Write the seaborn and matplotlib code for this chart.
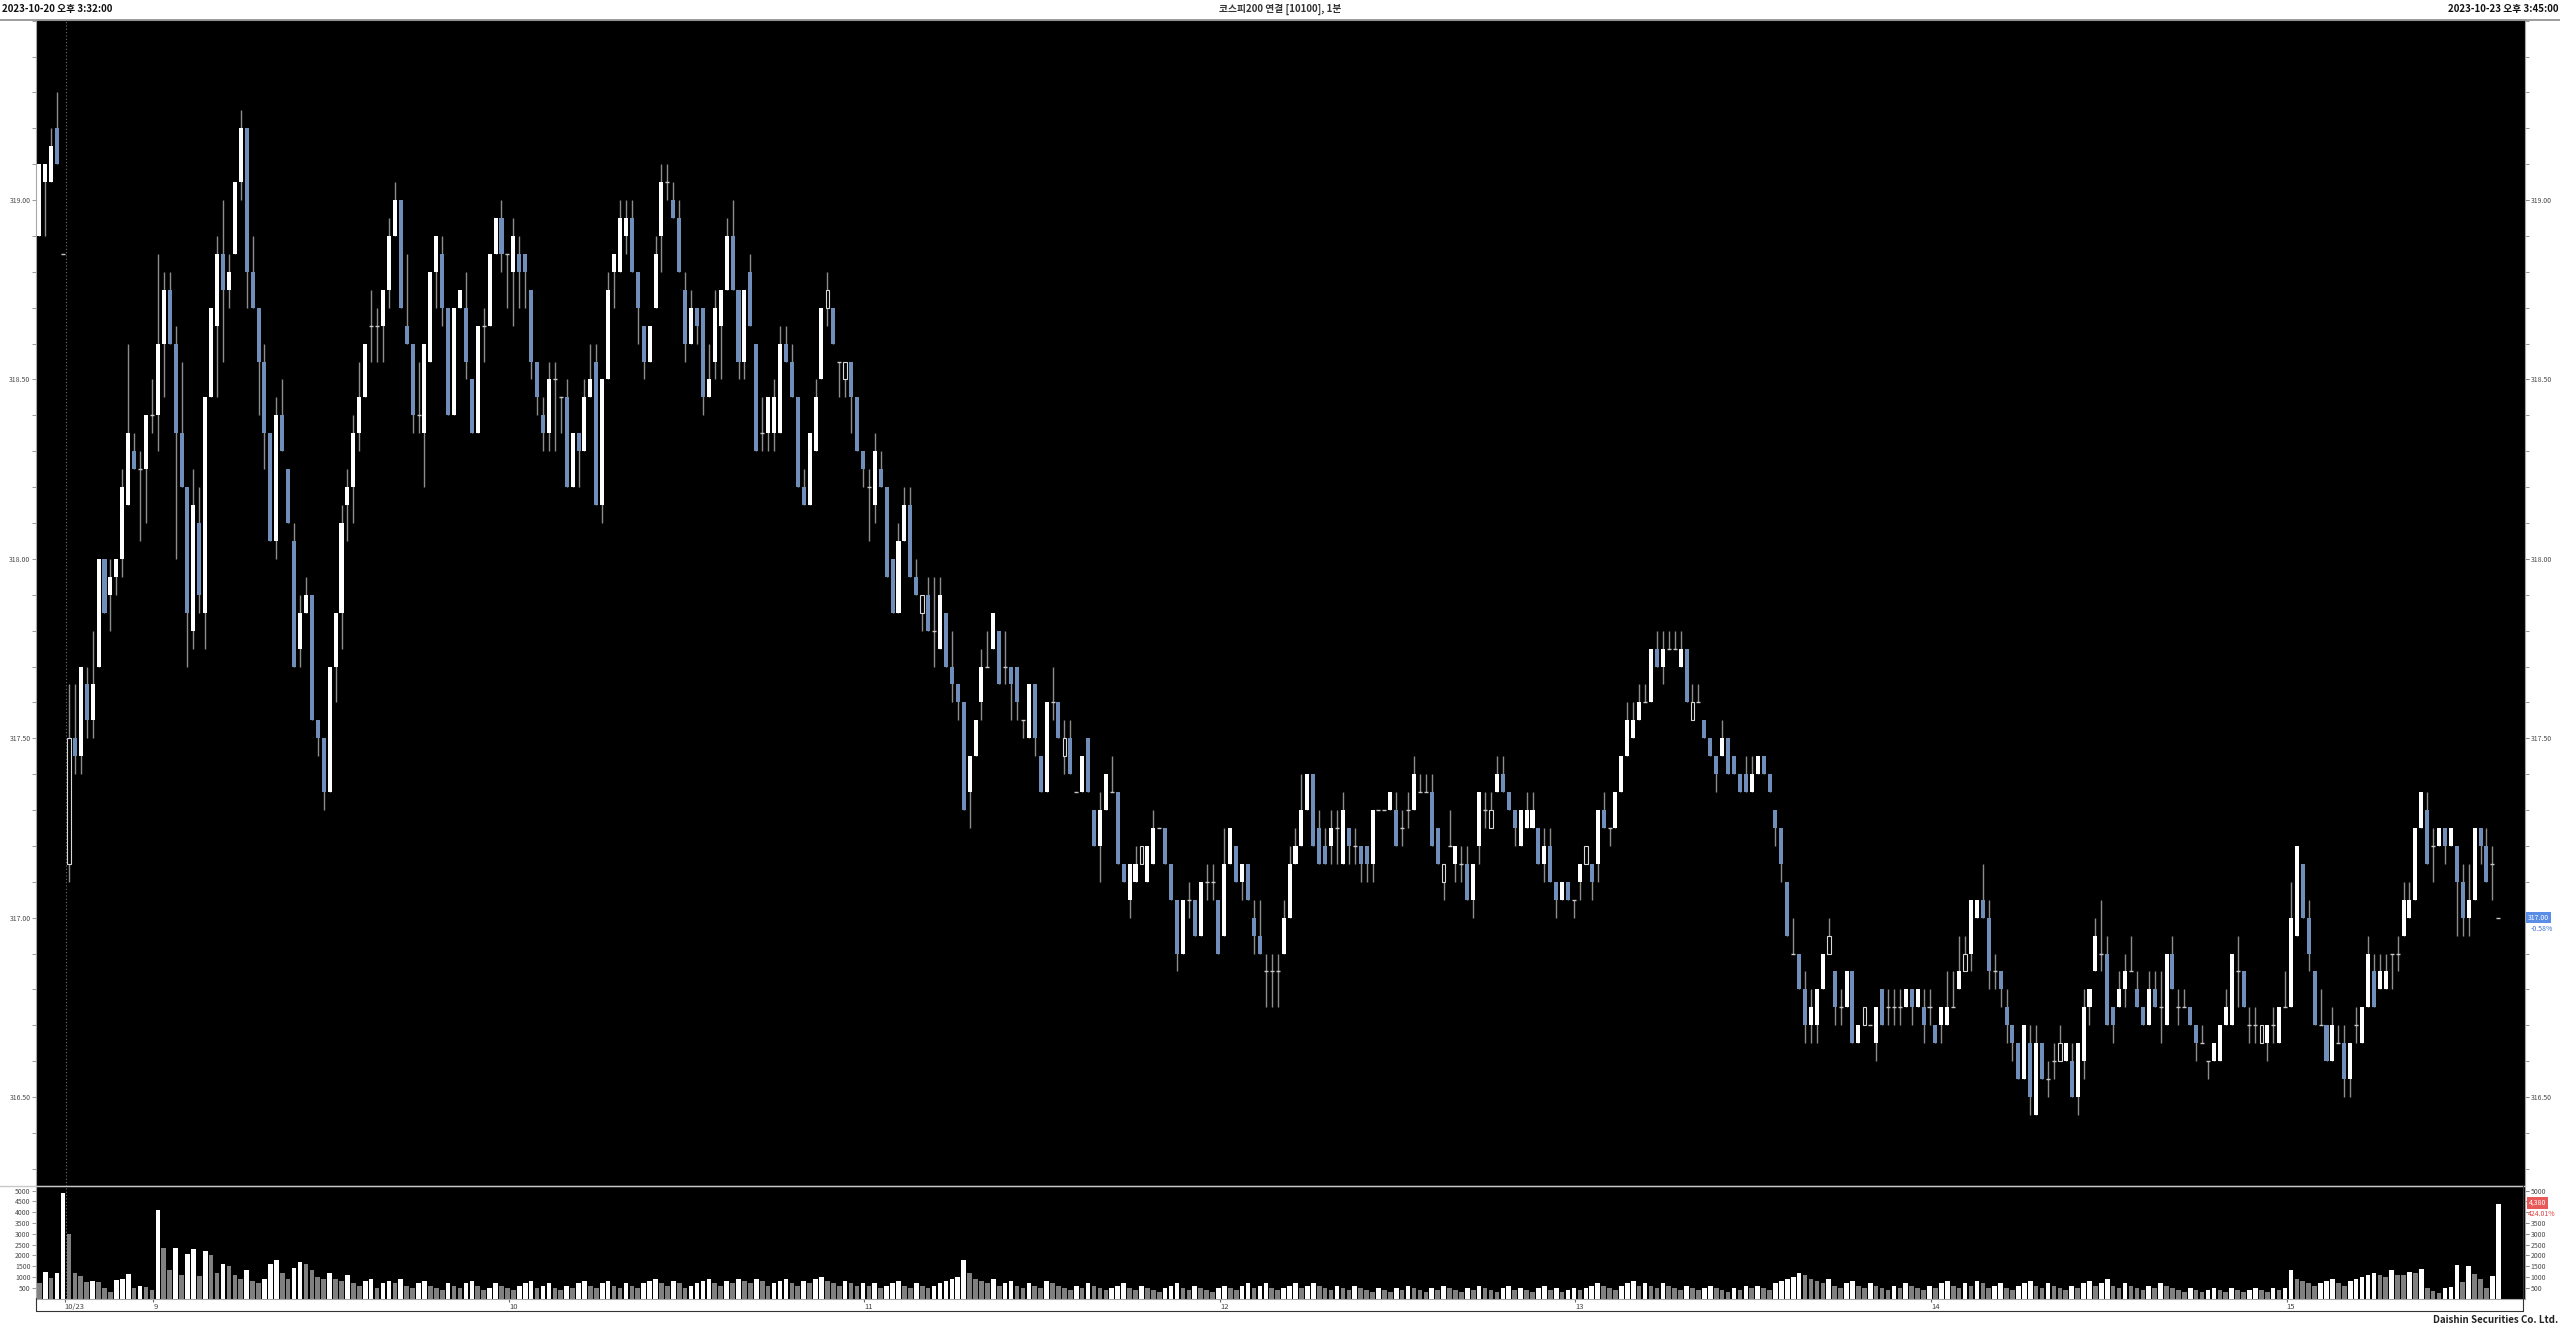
import matplotlib
matplotlib.use("Agg")
import matplotlib.pyplot as plt
from matplotlib.lines import Line2D
from matplotlib.ticker import MultipleLocator, FormatStrFormatter
import seaborn as sns
import numpy as np
import pandas as pd

# 1-minute candles, 2023-10-20 15:32 .. 2023-10-23 15:45
opens = [
    318.90, 319.05, 319.05, 319.20, 318.85, 317.15, 317.50, 317.45, 317.65, 317.55,
    317.70, 318.00, 317.90, 317.95, 318.00, 318.15, 318.30, 318.25, 318.25, 318.40,
    318.40, 318.60, 318.75, 318.60, 318.35, 318.20, 317.80, 318.10, 317.85, 318.45,
    318.65, 318.85, 318.75, 318.85, 319.05, 319.20, 318.80, 318.70, 318.55, 318.35,
    318.05, 318.40, 318.25, 318.05, 317.75, 317.85, 317.90, 317.55, 317.50, 317.35,
    317.70, 317.85, 318.15, 318.20, 318.35, 318.45, 318.65, 318.65, 318.65, 318.75,
    318.90, 319.00, 318.65, 318.60, 318.40, 318.35, 318.55, 318.80, 318.85, 318.70,
    318.40, 318.70, 318.70, 318.50, 318.35, 318.65, 318.65, 318.85, 318.95, 318.85,
    318.80, 318.85, 318.85, 318.75, 318.55, 318.40, 318.35, 318.50, 318.45, 318.45,
    318.20, 318.35, 318.30, 318.45, 318.55, 318.15, 318.50, 318.80, 318.80, 318.90,
    318.95, 318.80, 318.65, 318.55, 318.70, 318.90, 319.05, 319.00, 318.95, 318.75,
    318.60, 318.70, 318.70, 318.45, 318.55, 318.65, 318.75, 318.90, 318.75, 318.55,
    318.80, 318.60, 318.35, 318.35, 318.35, 318.35, 318.60, 318.55, 318.45, 318.20,
    318.15, 318.30, 318.50, 318.70, 318.70, 318.55, 318.50, 318.55, 318.45, 318.30,
    318.20, 318.15, 318.25, 318.20, 318.00, 317.85, 318.05, 318.15, 317.95, 317.85,
    317.90, 317.80, 317.75, 317.85, 317.70, 317.65, 317.60, 317.35, 317.45, 317.60,
    317.70, 317.75, 317.80, 317.70, 317.70, 317.70, 317.55, 317.50, 317.65, 317.45,
    317.35, 317.60, 317.60, 317.45, 317.50, 317.35, 317.35, 317.50, 317.30, 317.20,
    317.30, 317.35, 317.35, 317.15, 317.05, 317.10, 317.15, 317.10, 317.15, 317.25,
    317.25, 317.15, 317.05, 316.90, 317.05, 317.05, 316.95, 317.10, 317.10, 317.05,
    316.95, 317.15, 317.20, 317.10, 317.15, 317.00, 316.95, 316.85, 316.85, 316.85,
    316.90, 317.00, 317.15, 317.20, 317.30, 317.40, 317.25, 317.20, 317.20, 317.25,
    317.15, 317.25, 317.20, 317.20, 317.20, 317.15, 317.30, 317.30, 317.30, 317.30,
    317.25, 317.30, 317.30, 317.35, 317.35, 317.35, 317.25, 317.10, 317.20, 317.15,
    317.15, 317.15, 317.05, 317.20, 317.30, 317.25, 317.35, 317.40, 317.35, 317.30,
    317.20, 317.25, 317.25, 317.25, 317.15, 317.20, 317.10, 317.05, 317.10, 317.05,
    317.10, 317.15, 317.15, 317.15, 317.30, 317.25, 317.25, 317.35, 317.45, 317.50,
    317.55, 317.60, 317.60, 317.75, 317.70, 317.75, 317.75, 317.70, 317.75, 317.55,
    317.60, 317.55, 317.50, 317.45, 317.45, 317.50, 317.45, 317.40, 317.40, 317.35,
    317.40, 317.45, 317.40, 317.30, 317.25, 317.10, 316.90, 316.90, 316.80, 316.70,
    316.70, 316.80, 316.90, 316.85, 316.75, 316.75, 316.85, 316.65, 316.70, 316.70,
    316.65, 316.80, 316.75, 316.75, 316.75, 316.75, 316.80, 316.75, 316.75, 316.75,
    316.70, 316.70, 316.70, 316.75, 316.80, 316.85, 316.90, 317.00, 317.05, 317.00,
    316.85, 316.85, 316.75, 316.70, 316.65, 316.55, 316.65, 316.45, 316.65, 316.55,
    316.60, 316.60, 316.60, 316.60, 316.50, 316.60, 316.75, 316.85, 316.90, 316.90,
    316.75, 316.75, 316.80, 316.85, 316.80, 316.75, 316.70, 316.80, 316.75, 316.70,
    316.90, 316.75, 316.75, 316.75, 316.70, 316.65, 316.60, 316.60, 316.60, 316.70,
    316.70, 316.85, 316.85, 316.70, 316.70, 316.65, 316.65, 316.70, 316.65, 316.75,
    316.75, 316.95, 317.15, 317.00, 316.85, 316.70, 316.70, 316.60, 316.65, 316.65,
    316.55, 316.70, 316.65, 316.75, 316.85, 316.80, 316.80, 316.90, 316.90, 316.95,
    317.00, 317.05, 317.25, 317.30, 317.20, 317.20, 317.25, 317.20, 317.20, 317.10,
    317.00, 317.05, 317.25, 317.20, 317.15, 317.00,
]
highs = [
    319.10, 319.10, 319.20, 319.30, 318.85, 317.65, 317.65, 317.70, 317.70, 317.80,
    318.00, 318.00, 318.00, 318.00, 318.25, 318.60, 318.35, 318.30, 318.40, 318.50,
    318.85, 318.80, 318.80, 318.65, 318.55, 318.20, 318.25, 318.20, 318.45, 318.70,
    318.90, 319.00, 318.85, 319.05, 319.25, 319.20, 318.90, 318.70, 318.60, 318.35,
    318.45, 318.50, 318.25, 318.10, 317.90, 317.95, 317.90, 317.55, 317.50, 317.70,
    317.85, 318.15, 318.25, 318.40, 318.55, 318.60, 318.75, 318.70, 318.75, 318.95,
    319.05, 319.00, 318.85, 318.60, 318.55, 318.60, 318.80, 318.90, 318.90, 318.70,
    318.70, 318.75, 318.80, 318.50, 318.65, 318.70, 318.85, 318.95, 319.00, 318.85,
    318.95, 318.90, 318.85, 318.75, 318.55, 318.45, 318.55, 318.55, 318.45, 318.50,
    318.35, 318.35, 318.50, 318.60, 318.60, 318.50, 318.80, 318.85, 319.00, 319.00,
    319.00, 318.80, 318.65, 318.65, 318.90, 319.10, 319.10, 319.05, 319.00, 318.80,
    318.75, 318.70, 318.70, 318.60, 318.75, 318.75, 318.95, 319.00, 318.75, 318.75,
    318.85, 318.60, 318.45, 318.45, 318.50, 318.65, 318.65, 318.60, 318.45, 318.25,
    318.35, 318.50, 318.70, 318.80, 318.70, 318.55, 318.55, 318.55, 318.45, 318.30,
    318.25, 318.35, 318.30, 318.20, 318.00, 318.10, 318.20, 318.20, 318.00, 317.90,
    317.95, 317.95, 317.95, 317.85, 317.80, 317.65, 317.60, 317.45, 317.55, 317.75,
    317.80, 317.85, 317.80, 317.80, 317.70, 317.70, 317.55, 317.65, 317.65, 317.45,
    317.60, 317.70, 317.60, 317.55, 317.55, 317.35, 317.45, 317.50, 317.30, 317.35,
    317.40, 317.45, 317.35, 317.15, 317.15, 317.20, 317.20, 317.20, 317.30, 317.25,
    317.25, 317.15, 317.05, 317.05, 317.10, 317.05, 317.10, 317.15, 317.15, 317.05,
    317.25, 317.25, 317.20, 317.15, 317.15, 317.05, 317.05, 316.90, 316.90, 316.90,
    317.05, 317.20, 317.25, 317.40, 317.40, 317.40, 317.30, 317.25, 317.30, 317.30,
    317.35, 317.25, 317.25, 317.20, 317.20, 317.30, 317.30, 317.30, 317.35, 317.35,
    317.30, 317.35, 317.45, 317.40, 317.40, 317.40, 317.25, 317.15, 317.30, 317.20,
    317.20, 317.20, 317.15, 317.35, 317.35, 317.35, 317.45, 317.45, 317.35, 317.30,
    317.30, 317.35, 317.35, 317.25, 317.25, 317.25, 317.10, 317.10, 317.10, 317.05,
    317.15, 317.20, 317.15, 317.30, 317.35, 317.25, 317.35, 317.45, 317.60, 317.60,
    317.65, 317.65, 317.75, 317.80, 317.80, 317.80, 317.80, 317.80, 317.75, 317.65,
    317.65, 317.55, 317.50, 317.45, 317.55, 317.50, 317.45, 317.40, 317.45, 317.45,
    317.45, 317.45, 317.40, 317.30, 317.25, 317.10, 317.00, 316.90, 316.85, 316.80,
    316.80, 316.90, 317.00, 316.85, 316.80, 316.85, 316.85, 316.70, 316.75, 316.70,
    316.75, 316.80, 316.80, 316.80, 316.80, 316.80, 316.80, 316.80, 316.80, 316.80,
    316.70, 316.75, 316.85, 316.85, 316.95, 316.95, 317.05, 317.05, 317.15, 317.05,
    316.90, 316.85, 316.80, 316.70, 316.65, 316.70, 316.70, 316.70, 316.65, 316.60,
    316.65, 316.70, 316.65, 316.65, 316.65, 316.80, 316.80, 317.00, 317.05, 316.95,
    316.75, 316.85, 316.90, 316.95, 316.85, 316.75, 316.85, 316.85, 316.85, 316.90,
    316.95, 316.80, 316.80, 316.75, 316.70, 316.70, 316.60, 316.65, 316.70, 316.80,
    316.90, 316.95, 316.85, 316.75, 316.75, 316.70, 316.70, 316.75, 316.75, 316.85,
    317.10, 317.20, 317.15, 317.05, 316.85, 316.80, 316.70, 316.75, 316.70, 316.70,
    316.65, 316.75, 316.75, 316.95, 316.90, 316.90, 316.90, 316.90, 316.95, 317.10,
    317.10, 317.25, 317.35, 317.35, 317.25, 317.25, 317.25, 317.25, 317.20, 317.15,
    317.15, 317.25, 317.25, 317.25, 317.20, 317.00,
]
lows = [
    318.90, 318.90, 319.05, 319.10, 318.85, 317.10, 317.40, 317.40, 317.50, 317.50,
    317.70, 317.85, 317.80, 317.90, 317.95, 318.15, 318.25, 318.05, 318.10, 318.35,
    318.30, 318.45, 318.60, 318.00, 318.20, 317.70, 317.75, 317.85, 317.75, 318.45,
    318.45, 318.55, 318.70, 318.85, 319.00, 318.70, 318.70, 318.40, 318.25, 318.05,
    318.00, 318.30, 318.10, 317.70, 317.70, 317.85, 317.55, 317.45, 317.30, 317.35,
    317.60, 317.75, 318.05, 318.10, 318.30, 318.45, 318.55, 318.55, 318.55, 318.70,
    318.90, 318.70, 318.60, 318.35, 318.35, 318.20, 318.55, 318.70, 318.65, 318.40,
    318.40, 318.70, 318.50, 318.35, 318.35, 318.55, 318.65, 318.85, 318.80, 318.70,
    318.65, 318.70, 318.70, 318.50, 318.40, 318.30, 318.30, 318.30, 318.35, 318.20,
    318.20, 318.20, 318.30, 318.45, 318.15, 318.10, 318.50, 318.70, 318.80, 318.85,
    318.80, 318.60, 318.50, 318.55, 318.70, 318.80, 319.00, 318.95, 318.80, 318.55,
    318.60, 318.60, 318.40, 318.45, 318.50, 318.50, 318.75, 318.75, 318.50, 318.50,
    318.65, 318.30, 318.30, 318.30, 318.30, 318.35, 318.55, 318.45, 318.20, 318.15,
    318.15, 318.30, 318.50, 318.65, 318.60, 318.45, 318.45, 318.35, 318.30, 318.20,
    318.05, 318.10, 318.20, 317.95, 317.85, 317.85, 318.05, 317.95, 317.90, 317.80,
    317.80, 317.70, 317.75, 317.70, 317.60, 317.55, 317.30, 317.25, 317.45, 317.55,
    317.70, 317.75, 317.65, 317.65, 317.55, 317.55, 317.50, 317.50, 317.45, 317.35,
    317.35, 317.55, 317.50, 317.40, 317.40, 317.35, 317.35, 317.35, 317.20, 317.10,
    317.30, 317.35, 317.15, 317.10, 317.00, 317.10, 317.15, 317.10, 317.15, 317.25,
    317.15, 317.05, 316.85, 316.90, 317.00, 316.95, 316.95, 317.05, 317.05, 316.90,
    316.95, 317.15, 317.10, 317.05, 317.05, 316.90, 316.90, 316.75, 316.75, 316.75,
    316.90, 317.00, 317.15, 317.20, 317.30, 317.20, 317.15, 317.15, 317.15, 317.15,
    317.15, 317.15, 317.15, 317.10, 317.10, 317.10, 317.30, 317.30, 317.30, 317.20,
    317.20, 317.25, 317.30, 317.35, 317.35, 317.20, 317.15, 317.05, 317.20, 317.10,
    317.10, 317.05, 317.00, 317.15, 317.25, 317.25, 317.35, 317.35, 317.30, 317.20,
    317.20, 317.25, 317.25, 317.15, 317.10, 317.10, 317.00, 317.05, 317.05, 317.00,
    317.05, 317.15, 317.05, 317.10, 317.25, 317.20, 317.25, 317.35, 317.45, 317.50,
    317.55, 317.60, 317.60, 317.70, 317.65, 317.75, 317.75, 317.70, 317.60, 317.55,
    317.60, 317.50, 317.45, 317.35, 317.45, 317.40, 317.40, 317.35, 317.35, 317.35,
    317.40, 317.40, 317.35, 317.20, 317.10, 316.95, 316.90, 316.80, 316.65, 316.65,
    316.65, 316.80, 316.90, 316.70, 316.70, 316.75, 316.65, 316.65, 316.70, 316.70,
    316.60, 316.70, 316.70, 316.70, 316.70, 316.75, 316.70, 316.75, 316.65, 316.70,
    316.65, 316.65, 316.70, 316.75, 316.80, 316.85, 316.85, 317.00, 317.00, 316.80,
    316.80, 316.75, 316.65, 316.60, 316.55, 316.55, 316.45, 316.45, 316.55, 316.50,
    316.55, 316.60, 316.60, 316.50, 316.45, 316.55, 316.70, 316.85, 316.85, 316.70,
    316.65, 316.75, 316.75, 316.85, 316.75, 316.70, 316.70, 316.75, 316.65, 316.70,
    316.80, 316.70, 316.75, 316.70, 316.60, 316.65, 316.55, 316.60, 316.60, 316.70,
    316.70, 316.75, 316.75, 316.65, 316.65, 316.65, 316.60, 316.65, 316.65, 316.75,
    316.75, 316.95, 317.00, 316.85, 316.70, 316.70, 316.60, 316.60, 316.65, 316.50,
    316.50, 316.65, 316.65, 316.75, 316.75, 316.80, 316.80, 316.80, 316.85, 316.95,
    317.00, 317.05, 317.25, 317.15, 317.10, 317.20, 317.15, 317.20, 316.95, 316.95,
    316.95, 317.05, 317.15, 317.10, 317.05, 317.00,
]
closes = [
    319.10, 319.10, 319.15, 319.10, 318.85, 317.50, 317.45, 317.70, 317.55, 317.65,
    318.00, 317.85, 317.95, 318.00, 318.20, 318.35, 318.25, 318.25, 318.40, 318.40,
    318.60, 318.75, 318.60, 318.35, 318.20, 317.85, 318.15, 317.90, 318.45, 318.70,
    318.85, 318.75, 318.80, 319.05, 319.20, 318.80, 318.70, 318.55, 318.35, 318.05,
    318.40, 318.30, 318.10, 317.70, 317.85, 317.90, 317.55, 317.50, 317.35, 317.70,
    317.85, 318.10, 318.20, 318.35, 318.45, 318.60, 318.65, 318.65, 318.75, 318.90,
    319.00, 318.70, 318.60, 318.40, 318.40, 318.60, 318.80, 318.90, 318.70, 318.40,
    318.70, 318.75, 318.55, 318.35, 318.65, 318.65, 318.85, 318.95, 318.85, 318.85,
    318.90, 318.80, 318.80, 318.55, 318.45, 318.35, 318.50, 318.50, 318.45, 318.20,
    318.35, 318.30, 318.45, 318.50, 318.15, 318.50, 318.75, 318.85, 318.95, 318.95,
    318.80, 318.70, 318.55, 318.65, 318.85, 319.05, 319.05, 318.95, 318.80, 318.60,
    318.70, 318.65, 318.45, 318.50, 318.70, 318.75, 318.90, 318.75, 318.55, 318.75,
    318.65, 318.30, 318.35, 318.45, 318.45, 318.60, 318.55, 318.45, 318.20, 318.15,
    318.35, 318.45, 318.70, 318.75, 318.60, 318.55, 318.55, 318.45, 318.30, 318.25,
    318.20, 318.30, 318.20, 317.95, 317.85, 318.05, 318.15, 317.95, 317.90, 317.90,
    317.80, 317.80, 317.90, 317.70, 317.65, 317.60, 317.30, 317.45, 317.55, 317.70,
    317.70, 317.85, 317.65, 317.70, 317.65, 317.60, 317.55, 317.65, 317.50, 317.35,
    317.60, 317.60, 317.50, 317.50, 317.40, 317.35, 317.45, 317.35, 317.20, 317.30,
    317.40, 317.35, 317.15, 317.10, 317.15, 317.15, 317.20, 317.20, 317.25, 317.25,
    317.15, 317.05, 316.90, 317.05, 317.05, 316.95, 317.10, 317.10, 317.10, 316.90,
    317.15, 317.25, 317.10, 317.15, 317.05, 316.95, 316.90, 316.85, 316.85, 316.85,
    317.00, 317.15, 317.20, 317.30, 317.40, 317.20, 317.15, 317.15, 317.25, 317.25,
    317.30, 317.20, 317.20, 317.15, 317.15, 317.30, 317.30, 317.30, 317.35, 317.20,
    317.25, 317.30, 317.40, 317.35, 317.35, 317.20, 317.15, 317.15, 317.20, 317.20,
    317.15, 317.05, 317.15, 317.35, 317.30, 317.30, 317.40, 317.35, 317.30, 317.25,
    317.30, 317.30, 317.30, 317.15, 317.20, 317.10, 317.05, 317.10, 317.05, 317.05,
    317.15, 317.20, 317.10, 317.30, 317.25, 317.25, 317.35, 317.45, 317.55, 317.55,
    317.60, 317.60, 317.75, 317.70, 317.75, 317.75, 317.75, 317.75, 317.60, 317.60,
    317.60, 317.50, 317.45, 317.40, 317.50, 317.40, 317.40, 317.35, 317.35, 317.40,
    317.45, 317.40, 317.35, 317.25, 317.15, 316.95, 316.90, 316.80, 316.70, 316.75,
    316.80, 316.90, 316.95, 316.75, 316.75, 316.85, 316.65, 316.70, 316.75, 316.70,
    316.75, 316.70, 316.75, 316.75, 316.75, 316.80, 316.75, 316.80, 316.70, 316.75,
    316.65, 316.75, 316.75, 316.75, 316.85, 316.90, 317.05, 317.05, 317.00, 316.85,
    316.85, 316.80, 316.70, 316.65, 316.55, 316.70, 316.50, 316.65, 316.55, 316.55,
    316.60, 316.65, 316.65, 316.50, 316.65, 316.75, 316.80, 316.95, 316.90, 316.70,
    316.70, 316.80, 316.85, 316.85, 316.75, 316.70, 316.80, 316.75, 316.75, 316.90,
    316.80, 316.75, 316.75, 316.70, 316.65, 316.65, 316.60, 316.65, 316.70, 316.75,
    316.90, 316.85, 316.75, 316.70, 316.70, 316.70, 316.70, 316.70, 316.75, 316.75,
    317.00, 317.20, 317.00, 316.90, 316.70, 316.70, 316.60, 316.70, 316.65, 316.55,
    316.65, 316.70, 316.75, 316.90, 316.75, 316.85, 316.85, 316.90, 316.90, 317.05,
    317.05, 317.25, 317.35, 317.15, 317.20, 317.25, 317.20, 317.25, 317.10, 317.00,
    317.05, 317.25, 317.20, 317.10, 317.15, 317.00,
]
volumes = [
    700, 1230, 950, 1200, 4900, 3000, 1200, 1050, 750, 800,
    750, 480, 280, 860, 920, 1130, 500, 580, 550, 400,
    4100, 2350, 1300, 2350, 1100, 2050, 2300, 1050,
    2200, 2000, 1200, 1600, 1500, 1100, 900, 1300, 800, 700, 900, 1600,
    1800, 1200, 900, 1400, 1700, 1600, 1300, 1000, 900, 1200,
    900, 800, 1100, 700, 600, 800, 900, 500, 700, 800,
    700, 900, 600, 500, 700, 800, 600, 500, 400, 700,
    600, 500, 700, 800, 600, 400, 500, 700, 600, 500,
    400, 600, 700, 800, 500, 600, 700, 500, 400, 600,
    500, 700, 800, 600, 500, 700, 800, 600, 500, 700,
    600, 500, 700, 800, 900, 700, 600, 800, 700, 500,
    600, 700, 800, 900, 700, 600, 800, 700, 900, 800,
    700, 900, 800, 600, 700, 800, 900, 700, 600, 800,
    700, 900, 1000, 800, 700, 600, 800, 700, 600, 700,
    600, 700, 500, 600, 700, 800, 600, 500, 700, 600,
    500, 600, 700, 800, 900, 1000, 1800, 1200, 900, 800,
    700, 900, 600, 700, 800, 600, 500, 700, 600, 500,
    800, 700, 600, 500, 400, 600, 500, 700, 600, 500,
    400, 500, 600, 700, 500, 400, 600, 500, 400, 300,
    500, 600, 700, 500, 400, 600, 500, 400, 300, 500,
    600, 500, 400, 600, 700, 500, 600, 700, 500, 400,
    500, 600, 700, 500, 600, 700, 600, 500, 400, 600,
    500, 400, 600, 500, 400, 300, 500, 400, 300, 500,
    400, 600, 500, 400, 300, 500, 400, 600, 500, 400,
    300, 500, 400, 600, 500, 400, 300, 500, 600, 400,
    500, 400, 300, 500, 600, 400, 500, 300, 400, 500,
    400, 500, 600, 700, 600, 500, 400, 600, 700, 800,
    600, 700, 600, 500, 700, 600, 500, 400, 600, 500,
    400, 500, 600, 500, 400, 300, 500, 400, 600, 500,
    600, 500, 400, 700, 800, 900, 1000, 1200, 1100, 900,
    800, 700, 900, 600, 500, 700, 800, 600, 500, 700,
    600, 500, 400, 600, 500, 700, 600, 500, 400, 600,
    500, 700, 800, 600, 500, 700, 600, 800, 700, 500,
    600, 700, 500, 400, 600, 700, 800, 600, 500, 700,
    600, 500, 400, 600, 500, 700, 800, 600, 700, 900,
    600, 500, 700, 600, 500, 400, 600, 500, 700, 600,
    500, 400, 300, 500, 400, 300, 400, 500, 400, 300,
    500, 400, 300, 400, 500, 400, 300, 500, 400, 500,
    1300, 900, 800, 700, 600, 700, 800, 900, 700, 600,
    800, 900, 1000, 1100, 1200, 1100, 1000, 1300, 1100,
    1100, 1250, 1200, 1350, 500, 350, 250, 500, 550, 1550,
    750, 1500, 1150, 900, 500, 1033, 4380,
]
# candles drawn as outlines in the source
hollow = [5, 133, 136, 149, 173, 186, 237, 245, 261, 279, 302, 308, 325, 341, 375]

prev_day_close = 318.85
hour_pos = [5, 20, 80, 140, 200, 260, 320, 380]
hour_labels = ["10/23", "9", "10", "11", "12", "13", "14", "15"]
day_break = 4.55
price_ticks = [316.5, 317.0, 317.5, 318.0, 318.5, 319.0]
price_ticks_right = [316.5, 317.5, 318.0, 318.5, 319.0]
vol_ticks = [500, 1000, 1500, 2000, 2500, 3000, 3500, 4000, 4500, 5000]
vol_ticks_right = [500, 1000, 1500, 2000, 2500, 3000, 3500, 5000]

n = len(closes)
assert len(opens) == len(highs) == len(lows) == len(volumes) == n

df = pd.DataFrame({"o": opens, "h": highs, "l": lows, "c": closes, "v": volumes})
df["idx"] = np.arange(n)
df["vdir"] = np.where(df["v"] > df["v"].shift(1), "up", "down")

W, H = 2560, 1328
UP = "#ffffff"
DOWN = "#6f8fba"
WICK = "#8c8c8c"
LBL = "#4a4a4a"

sns.set_style("ticks")
plt.rcParams["font.family"] = ["Noto Sans CJK KR", "DejaVu Sans"]

fig = plt.figure(figsize=(W / 100, H / 100), dpi=100, facecolor="white")


def fx(px):
    return px / W


def fy(py):
    return 1 - py / H


left, right = 36, 2525
ax = fig.add_axes([fx(left), fy(1186), fx(right - left), (1186 - 20) / H])
axv = fig.add_axes([fx(left), fy(1298.5), fx(right - left), (1298.5 - 1186) / H], sharex=ax)

for a in (ax, axv):
    a.set_facecolor("black")
    for s in a.spines.values():
        s.set_color("#a8a8a8")
        s.set_linewidth(0.8)

# candles
ax.vlines(df["idx"], df["l"], df["h"], color=WICK, lw=1.0, zorder=1)
body = df[df["o"] != df["c"]]
solid = body[~body["idx"].isin(hollow)]
outline = body[body["idx"].isin(hollow)]
cols = np.where(solid["c"] > solid["o"], UP, DOWN)
ax.bar(solid["idx"], (solid["c"] - solid["o"]).abs(), bottom=solid[["o", "c"]].min(axis=1),
       width=0.68, color=cols, linewidth=0, zorder=2)
ax.bar(outline["idx"], (outline["c"] - outline["o"]).abs(), bottom=outline[["o", "c"]].min(axis=1),
       width=0.6, facecolor="black", edgecolor="#d8d8d8", linewidth=0.8, zorder=2)
doji = df[df["o"] == df["c"]]
ax.hlines(doji["c"], doji["idx"] - 0.34, doji["idx"] + 0.34, color="#c8c8c8", lw=1.0, zorder=2)

ax.axvline(day_break, color="#707070", lw=0.8, ls=(0, (1, 2)))
axv.axvline(day_break, color="#707070", lw=0.8, ls=(0, (1, 2)))

ax.set_ylim(316.252, 319.502)
ax.set_xlim(-0.56, 419.5)
ax.set_yticks(price_ticks)
ax.yaxis.set_minor_locator(MultipleLocator(0.1))
ax.yaxis.set_major_formatter(FormatStrFormatter("%.2f"))
ax.tick_params(axis="y", which="both", left=True, right=True, labelleft=True, labelright=False,
               labelsize=5, labelcolor=LBL, color="#888888", length=3, width=0.6, pad=1)
ax.tick_params(axis="x", bottom=False, labelbottom=False)
sec = ax.secondary_yaxis("right")
sec.set_yticks(price_ticks_right)
sec.yaxis.set_major_formatter(FormatStrFormatter("%.2f"))
sec.tick_params(axis="y", labelsize=5, labelcolor=LBL, color="#888888", length=3, width=0.6, pad=1)
sec.spines["right"].set_visible(False)

# volume
sns.barplot(data=df, x="idx", y="v", hue="vdir", palette={"up": "#ffffff", "down": "#808080"},
            native_scale=True, dodge=False, width=0.78, errorbar=None, legend=False,
            saturation=1, linewidth=0, ax=axv)
axv.set_xlim(-0.56, 419.5)
axv.set_ylim(0, 5218)
axv.set_yticks(vol_ticks)
axv.tick_params(axis="y", left=True, right=True, labelleft=True, labelright=False,
                labelsize=5, labelcolor=LBL, color="#888888", length=3, width=0.6, pad=1)
secv = axv.secondary_yaxis("right")
secv.set_yticks(vol_ticks_right)
secv.tick_params(axis="y", labelsize=5, labelcolor=LBL, color="#888888", length=3, width=0.6, pad=1)
secv.spines["right"].set_visible(False)
axv.set_xticks([p - 0.75 for p in hour_pos])
axv.set_xticklabels(hour_labels, ha="left")
axv.tick_params(axis="x", labelsize=5.5, labelcolor="#444444", color="#666666", length=2, pad=1)
axv.set_xlabel("")
axv.set_ylabel("")
ax.set_ylabel("")

# frame lines
fig.add_artist(Line2D([0, 1], [fy(20), fy(20)], color="#8c8c8c", lw=1.2))
fig.add_artist(Line2D([0, fx(right)], [fy(1186), fy(1186)], color="#c8c8c8", lw=1.0))
fig.add_artist(Line2D([fx(left), fx(2523)], [fy(1311), fy(1311)], color="#333333", lw=0.8))
fig.add_artist(Line2D([fx(left), fx(left)], [fy(1298), fy(1311)], color="#333333", lw=0.8))
fig.add_artist(Line2D([fx(2523), fx(2523)], [fy(1186), fy(1311)], color="#333333", lw=0.8))

# header / footer text
fig.text(fx(2), fy(9), "2023-10-20 오후 3:32:00", fontsize=7, weight="bold", va="center", color="#111111")
fig.text(0.5, fy(9), "코스피200 연결 [10100], 1분", fontsize=7, weight="bold", ha="center", va="center",
         color="#333333")
fig.text(fx(2558), fy(9), "2023-10-23 오후 3:45:00", fontsize=7, weight="bold", ha="right", va="center",
         color="#111111")
fig.text(fx(2558), fy(1320), "Daishin Securities Co. Ltd.", fontsize=7, weight="bold", ha="right",
         va="center", color="#222222")

# last value markers
last_c = closes[-1]
chg = (last_c / prev_day_close - 1) * 100
y_last = 200 + (319.0 - last_c) * 358.8
fig.text(fx(2528), fy(y_last), f"{last_c:.2f}", fontsize=5, color="white", va="center",
         bbox=dict(boxstyle="square,pad=0.25", facecolor="#5a8ee6", edgecolor="none"))
fig.text(fx(2531), fy(y_last + 11), f"{chg:.2f}%", fontsize=5, color="#3a6fd8", va="center")

v_last = volumes[-1]
vchg = (volumes[-1] / volumes[-2]) * 100
yv = 1298.5 - v_last * 0.02156
fig.text(fx(2529), fy(yv - 1), f"{v_last:,}", fontsize=5, color="white", va="center",
         bbox=dict(boxstyle="square,pad=0.25", facecolor="#e85a5a", edgecolor="none"))
fig.text(fx(2528), fy(yv + 10), f"{vchg:.2f}%", fontsize=5, color="#e04040", va="center")

fig.savefig("out.png", dpi=100, facecolor="white")
